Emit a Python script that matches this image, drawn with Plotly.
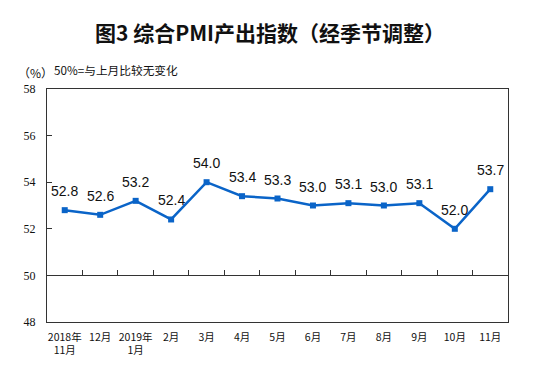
import plotly.graph_objects as go

categories = ["2018年<br>11月", "12月", "2019年<br>1月", "2月", "3月", "4月", "5月",
              "6月", "7月", "8月", "9月", "10月", "11月"]
values = [52.8, 52.6, 53.2, 52.4, 54.0, 53.4, 53.3, 53.0, 53.1, 53.0, 53.1, 52.0, 53.7]
labels = [f"{v:.1f}" for v in values]
y_ticks = [48, 50, 52, 54, 56, 58]

blue = "#0A64C8"
axis_col = "#333333"

# page body has an 8px default margin; size the figure to fit the window
OFF = 8
W, H = 553 - OFF, 392 - OFF
l, r, t, b = 47 - OFF, 45, 89 - OFF, 70
pw, ph = W - l - r, H - t - b

fig = go.Figure()
fig.add_trace(go.Scatter(
    x=categories, y=values, mode="lines+markers",
    line=dict(color=blue, width=2.5),
    marker=dict(symbol="square", size=6, color=blue),
    cliponaxis=False, hoverinfo="skip", showlegend=False,
))
# helper trace for the 50 baseline axis (ticks between categories)
fig.add_trace(go.Scatter(
    x=categories, y=[50] * len(categories), mode="markers",
    marker=dict(opacity=0), xaxis="x2", hoverinfo="skip", showlegend=False,
))

annotations = []
for c, v, s in zip(categories, values, labels):
    annotations.append(dict(
        x=c, y=v, xref="x", yref="y", text=s, showarrow=False,
        yshift=19, yanchor="middle",
        font=dict(family="Liberation Sans, Arial", size=14, color="#111111")))


def px_ann(text, x, y, size, xanchor="center"):
    x -= OFF
    y -= OFF
    return dict(text=text, x=(x - l) / pw, y=(H - b - y) / ph, xref="paper", yref="paper",
                xanchor=xanchor, yanchor="middle", showarrow=False,
                font=dict(family="Noto Sans CJK SC", size=size, color="#111111"))


annotations.append(px_ann("<b>图3 综合PMI产出指数（经季节调整）</b>", 270, 32, 21))
annotations.append(px_ann("（%）", 16, 72.7, 12, "left"))
annotations.append(px_ann("50%=与上月比较无变化", 52, 70, 11.7, "left"))

fig.update_layout(
    width=W, height=H,
    margin=dict(l=l, r=r, t=t, b=b),
    paper_bgcolor="white", plot_bgcolor="white",
    xaxis=dict(
        type="category", categoryorder="array", categoryarray=categories,
        range=[-0.5, len(categories) - 0.5], automargin=False,
        showline=True, linecolor=axis_col, linewidth=1.2, mirror=True,
        ticks="", showgrid=False, zeroline=False,
        tickfont=dict(family="Noto Sans CJK SC", size=10.5, color="#111111"),
        ticklabelstandoff=5,
    ),
    xaxis2=dict(
        type="category", categoryorder="array", categoryarray=categories,
        range=[-0.5, len(categories) - 0.5], automargin=False,
        overlaying="x", anchor="free", position=(50 - 48) / (58 - 48), side="bottom",
        showline=True, linecolor=axis_col, linewidth=1,
        ticks="inside", tickson="boundaries", ticklen=5, tickcolor=axis_col, tickwidth=1,
        showticklabels=False, showgrid=False, zeroline=False,
    ),
    yaxis=dict(
        range=[48, 58], tickvals=y_ticks, ticktext=[str(t) for t in y_ticks],
        automargin=False,
        showline=True, linecolor=axis_col, linewidth=1.2, mirror=True,
        ticks="inside", ticklen=5, tickcolor=axis_col,
        showgrid=False, zeroline=False,
        tickfont=dict(family="Liberation Serif, Times New Roman", size=12, color="#111111"),
        ticklabelstandoff=8,
    ),
    annotations=annotations,
)

fig.write_html("out.html")
